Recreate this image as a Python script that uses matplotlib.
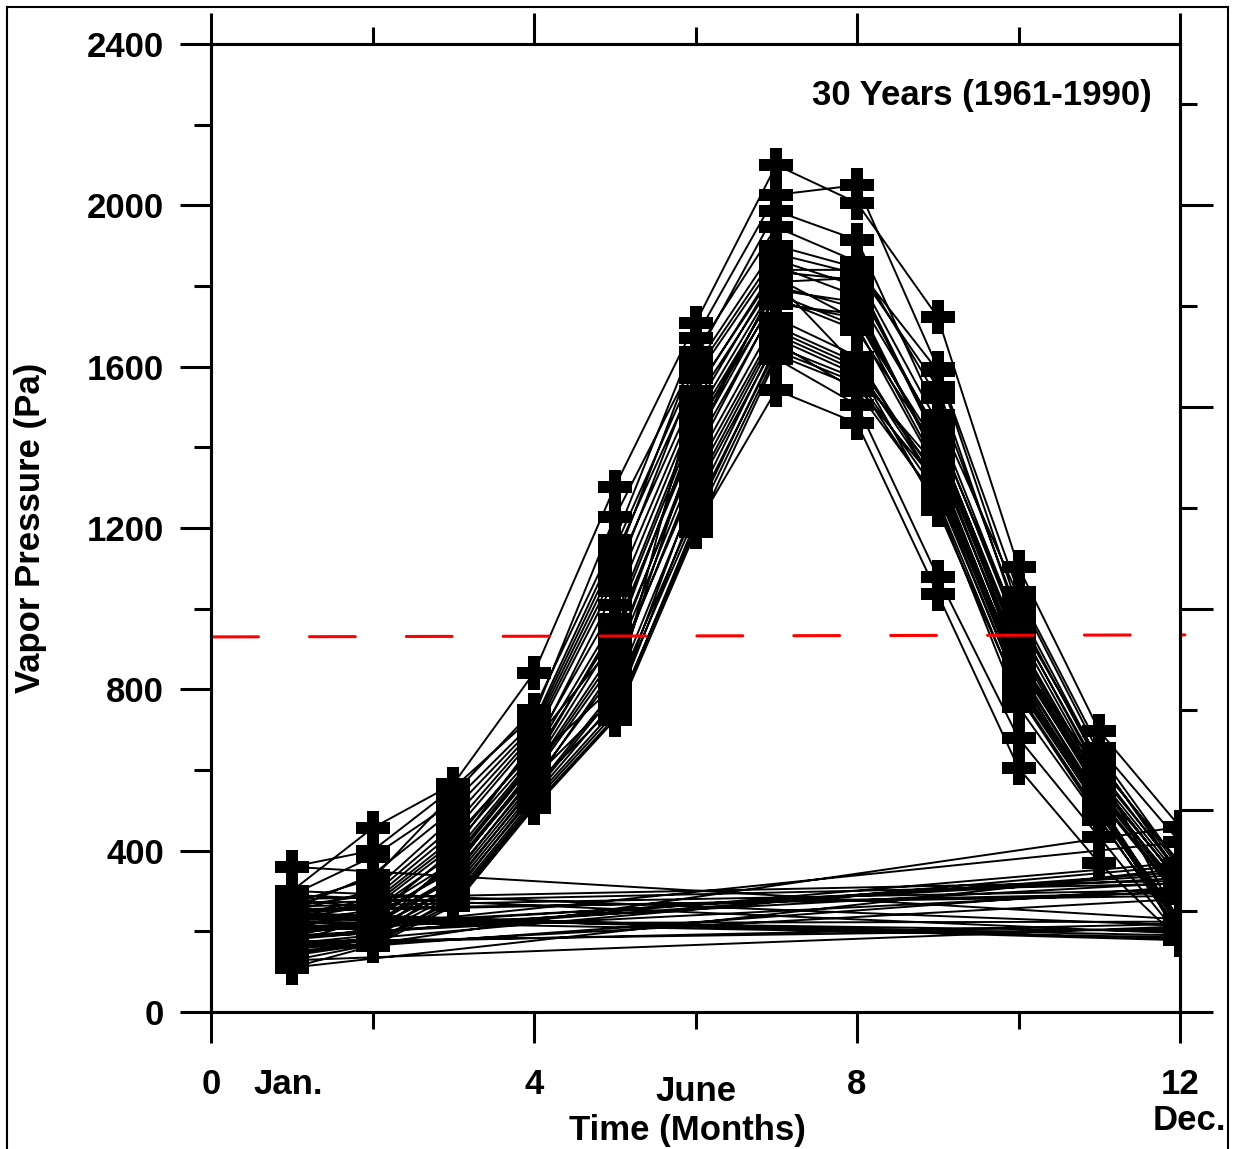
import matplotlib
matplotlib.use('Agg')
import matplotlib.pyplot as plt
from matplotlib.ticker import MultipleLocator
from matplotlib.lines import Line2D

plt.rcParams['font.family'] = ['Liberation Sans', 'DejaVu Sans']
plt.rcParams['font.weight'] = 'bold'
plt.rcParams['axes.labelweight'] = 'bold'
plt.rcParams['font.size'] = 25

# monthly mean vapor pressure (Pa), one entry per year 1961-1990
months = list(range(1, 13))
jan = [215, 250, 180, 300, 140, 230, 270, 195, 360, 165, 240, 205, 290, 110, 225,
       255, 185, 175, 262, 210, 150, 235, 280, 200, 128, 245, 190, 158, 220, 170]
feb = [240, 300, 205, 456, 185, 265, 330, 220, 400, 175, 280, 210, 385, 164, 252,
       340, 195, 230, 290, 246, 170, 272, 258, 215, 167, 235, 225, 180, 200, 190]
mar = [350, 480, 312, 565, 290, 420, 540, 335, 555, 275, 445, 305, 520, 262, 390,
       500, 298, 358, 460, 372, 268, 430, 410, 328, 283, 400, 365, 320, 380, 342]
apr = [610, 700, 565, 841, 543, 660, 750, 588, 735, 520, 680, 550, 720, 506, 632,
       710, 535, 595, 690, 618, 512, 650, 640, 572, 528, 670, 602, 558, 625, 580]
may = [930, 1110, 855, 1302, 790, 1010, 1170, 870, 1227, 740, 1070, 800, 1150, 724, 945,
       1130, 770, 885, 1090, 960, 730, 1045, 975, 840, 750, 915, 900, 760, 810, 780]
jun = [1440, 1636, 1320, 1708, 1245, 1495, 1671, 1360, 1620, 1200, 1585, 1290, 1600, 1190, 1420,
       1572, 1230, 1400, 1535, 1460, 1215, 1515, 1475, 1340, 1260, 1450, 1380, 1300, 1420, 1540]
jul = [1800, 1946, 1690, 2100, 1640, 1835, 2026, 1720, 1986, 1542, 1880, 1660, 1900, 1620, 1780,
       1865, 1650, 1755, 1850, 1790, 1630, 1820, 1810, 1700, 1670, 1770, 1760, 1680, 1810, 1840]
aug = [1745, 1860, 1600, 2006, 1560, 1815, 2050, 1625, 1914, 1460, 1830, 1540, 1845, 1505, 1700,
       1800, 1570, 1730, 1775, 1760, 1550, 1715, 1820, 1610, 1580, 1690, 1720, 1590, 1600, 1840]
sep = [1370, 1522, 1245, 1723, 1260, 1410, 1597, 1300, 1480, 1036, 1460, 1270, 1590, 1079, 1340,
       1430, 1285, 1380, 1440, 1360, 1310, 1400, 1415, 1320, 1350, 1390, 1350, 1330, 1300, 1550]
octo = [870, 985, 790, 1103, 757, 920, 1041, 800, 1030, 605, 955, 785, 1000, 679, 850,
        960, 810, 860, 940, 880, 820, 900, 910, 830, 815, 885, 845, 840, 870, 970]
nov = [540, 610, 490, 697, 476, 570, 655, 505, 640, 369, 600, 480, 620, 434, 530,
       590, 500, 550, 580, 545, 510, 560, 570, 520, 515, 556, 525, 500, 600, 625]
dec = [295, 370, 215, 459, 200, 318, 421, 230, 362, 178, 340, 195, 355, 185, 288,
       347, 206, 302, 332, 310, 190, 325, 320, 212, 180, 300, 280, 224, 218, 340]
by_month = [jan, feb, mar, apr, may, jun, jul, aug, sep, octo, nov, dec]

# long-term mean level (red dashed)
mean_x = [0.02, 12.06]
mean_y = [930, 935]

# one continuous series: Jan..Dec of each year, Dec joined to next Jan
xs, ys = [], []
for yr in range(len(jan)):
    for m in months:
        xs.append(m)
        ys.append(by_month[m - 1][yr])

fig = plt.figure(figsize=(12.33, 11.49), dpi=100)
ax = fig.add_axes([211 / 1233, 1 - 1012 / 1149, 969 / 1233, 968 / 1149])

ax.plot(xs, ys, color='black', lw=1.4, marker='P', ms=24.5, mew=0, zorder=3)
ax.plot(mean_x, mean_y, color='red', lw=2.2, dash_capstyle='round',
        linestyle=(0, (15.0, 16.7)), clip_on=False, zorder=5)

ax.set_xlim(0, 12)
ax.set_ylim(0, 2400)
ax.xaxis.set_major_locator(MultipleLocator(4))
ax.xaxis.set_minor_locator(MultipleLocator(2))
ax.yaxis.set_major_locator(MultipleLocator(400))
ax.yaxis.set_minor_locator(MultipleLocator(200))
ax.tick_params(axis='both', which='major', direction='out', length=22, width=2.2)
ax.tick_params(axis='both', which='minor', direction='out', length=12, width=2.2)
ax.tick_params(axis='x', which='both', top=True, pad=18)
ax.tick_params(axis='y', pad=12)
for s in ax.spines.values():
    s.set_linewidth(2.2)

ax2 = ax.twinx()
ax2.set_ylim(0, 2400)
ax2.yaxis.set_major_locator(MultipleLocator(500))
ax2.yaxis.set_minor_locator(MultipleLocator(250))
ax2.tick_params(axis='y', which='major', direction='out', length=24, width=2.2, labelright=False)
ax2.tick_params(axis='y', which='minor', direction='out', length=12, width=2.2)
for s in ax2.spines.values():
    s.set_linewidth(2.2)

trans = ax.get_xaxis_transform()
ax.text(0.96, -0.0754, 'Jan.', ha='center', va='center', transform=trans)
ax.text(6, -0.0826, 'June', ha='center', va='center', transform=trans)
ax.text(12.12, -0.1116, 'Dec.', ha='center', va='center', transform=trans)

ax.set_xlabel('Time (Months)', va='center', fontweight='bold')
ax.xaxis.set_label_coords(0.492, -0.122)
ax.set_ylabel('Vapor Pressure (Pa)', va='center', fontweight='bold')
ax.yaxis.set_label_coords(-0.186, 0.5)

ax.text(0.971, 0.947, '30 Years (1961-1990)', ha='right', va='center', transform=ax.transAxes)

# outer frame
W, H = 1233, 1149
for (x0, y0, x1, y1) in [(6.5, 0, 6.5, 1142.5), (6.5, 1142.5, 1228, 1142.5), (1228, 1142.5, 1228, 0)]:
    fig.add_artist(Line2D([x0 / W, x1 / W], [y0 / H, y1 / H], color='black', lw=1.5,
                          transform=fig.transFigure))

fig.savefig('out.png', dpi=100)
